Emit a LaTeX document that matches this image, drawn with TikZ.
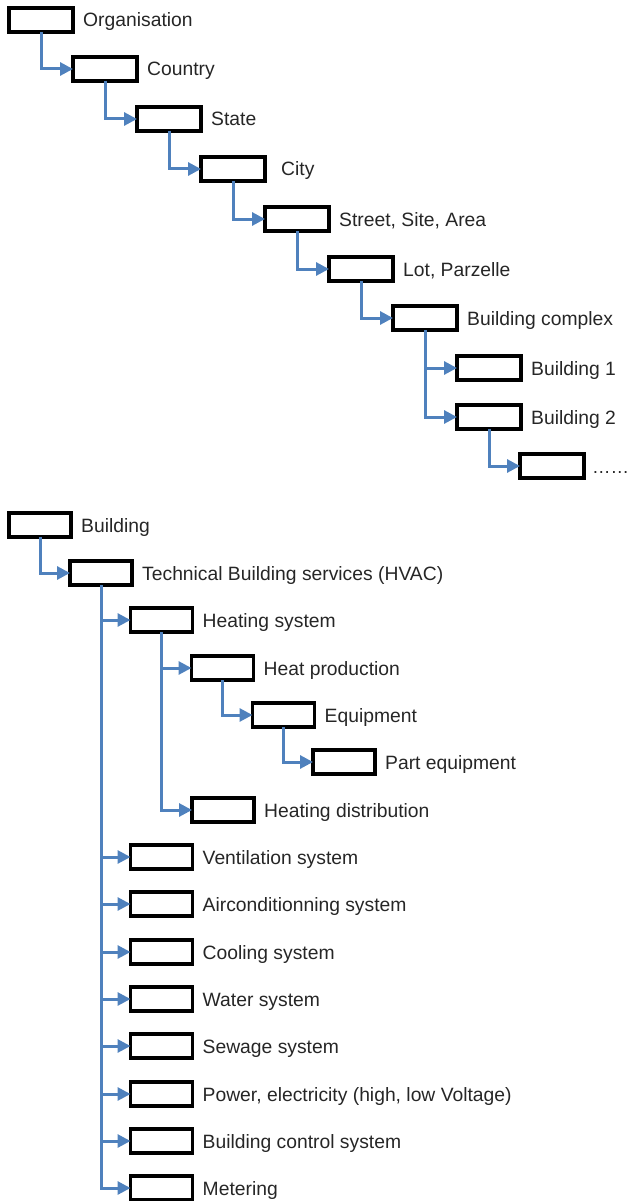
\documentclass[tikz,border=0pt]{standalone}
\usepackage{fontspec}
\setmainfont{Liberation Sans}
\usetikzlibrary{arrows.meta,calc}
\definecolor{linkblue}{HTML}{4F81BD}
\definecolor{labelgray}{HTML}{262626}
\tikzset{
  box/.style={draw=black,line width=3.3pt,minimum width=64pt,minimum height=24pt,inner sep=0pt,outer sep=0pt},
  sbox/.style={box,minimum width=62pt},
  lbl/.style={anchor=base west,inner sep=0pt,text=labelgray,font=\fontsize{19.3}{22}\selectfont},
  link/.style={draw=linkblue,line width=3pt,-{Triangle[length=13pt,width=13pt]}}
}
\begin{document}
\begin{tikzpicture}[x=1pt,y=-1pt]
\useasboundingbox (0,0) rectangle (631,1201);

% location hierarchy
\node[box] (org)  at (41,20)  {};
\node[box] (ctry) at (105,69) {};
\node[box] (st)   at (169,119) {};
\node[box] (city) at (233,169) {};
\node[box] (str)  at (297,219) {};
\node[box] (lot)  at (361,269) {};
\node[box] (cplx) at (425,318) {};
\node[box] (b1)   at (489,368) {};
\node[box] (b2)   at (489,417) {};
\node[box] (more) at (552,466) {};

\node[lbl] (torg)  at ($(org.east)+(10,7)$)  {Organisation};
\node[lbl] (tctry) at ($(ctry.east)+(10,7)$) {Country};
\node[lbl] (tst)   at ($(st.east)+(10,7)$)   {State};
\node[lbl] (tcity) at ($(city.east)+(16,7)$) {City};
\node[lbl] (tstr)  at ($(str.east)+(10,7)$)  {Street, Site, Area};
\node[lbl] (tlot)  at ($(lot.east)+(10,7)$)  {Lot, Parzelle};
\node[lbl] (tcplx) at ($(cplx.east)+(10,7)$) {Building complex};
\node[lbl] (tb1)   at ($(b1.east)+(10,7)$)   {Building 1};
\node[lbl] (tb2)   at ($(b2.east)+(10,7)$)   {Building 2};
\node[lbl,font=\fontsize{18.5}{22}\selectfont] (tmore) at ($(more.east)+(8,7)$) {……};

\draw[link] (org.south)  |- (ctry.west);
\draw[link] (ctry.south) |- (st.west);
\draw[link] (st.south)   |- (city.west);
\draw[link] (city.south) |- (str.west);
\draw[link] (str.south)  |- (lot.west);
\draw[link] (lot.south)  |- (cplx.west);
\draw[link] (cplx.south) |- (b1.west);
\draw[link] (cplx.south) |- (b2.west);
\draw[link] (b2.south)   |- (more.west);

% building services hierarchy
\node[sbox] (bld)  at (40,525)   {};
\node[sbox] (tbs)  at (101,573)  {};
\node[sbox] (heat) at (161.5,620) {};
\node[sbox] (hp)   at (222.5,668) {};
\node[sbox] (eq)   at (283.5,715) {};
\node[sbox] (peq)  at (344,762)  {};
\node[sbox] (hd)   at (223,810)  {};
\node[sbox] (vent) at (161.5,857) {};
\node[sbox] (air)  at (161.5,904) {};
\node[sbox] (cool) at (161.5,952) {};
\node[sbox] (wat)  at (161.5,999) {};
\node[sbox] (sew)  at (161.5,1046) {};
\node[sbox] (pow)  at (161.5,1094) {};
\node[sbox] (bcs)  at (161.5,1141) {};
\node[sbox] (met)  at (161.5,1188) {};

\node[lbl] (tbld)  at ($(bld.east)+(10,7)$)  {Building};
\node[lbl] (ttbs)  at ($(tbs.east)+(10,7)$)  {Technical Building services (HVAC)};
\node[lbl] (theat) at ($(heat.east)+(10,7)$) {Heating system};
\node[lbl] (thp)   at ($(hp.east)+(10,7)$)   {Heat production};
\node[lbl] (teq)   at ($(eq.east)+(10,7)$)   {Equipment};
\node[lbl] (tpeq)  at ($(peq.east)+(10,7)$)  {Part equipment};
\node[lbl] (thd)   at ($(hd.east)+(10,7)$)   {Heating distribution};
\node[lbl] (tvent) at ($(vent.east)+(10,7)$) {Ventilation system};
\node[lbl] (tair)  at ($(air.east)+(10,7)$)  {Airconditionning system};
\node[lbl] (tcool) at ($(cool.east)+(10,7)$) {Cooling system};
\node[lbl] (twat)  at ($(wat.east)+(10,7)$)  {Water system};
\node[lbl] (tsew)  at ($(sew.east)+(10,7)$)  {Sewage system};
\node[lbl] (tpow)  at ($(pow.east)+(10,7)$)  {Power, electricity (high, low Voltage)};
\node[lbl] (tbcs)  at ($(bcs.east)+(10,7)$)  {Building control system};
\node[lbl] (tmet)  at ($(met.east)+(10,7)$)  {Metering};

\draw[link] (bld.south)  |- (tbs.west);
\draw[link] (heat.south) |- (hp.west);
\draw[link] (hp.south)   |- (eq.west);
\draw[link] (eq.south)   |- (peq.west);
\draw[link] (heat.south) |- (hd.west);
\foreach \n in {heat,vent,air,cool,wat,sew,pow,bcs,met}
  \draw[link] (tbs.south) |- (\n.west);
\end{tikzpicture}
\end{document}
